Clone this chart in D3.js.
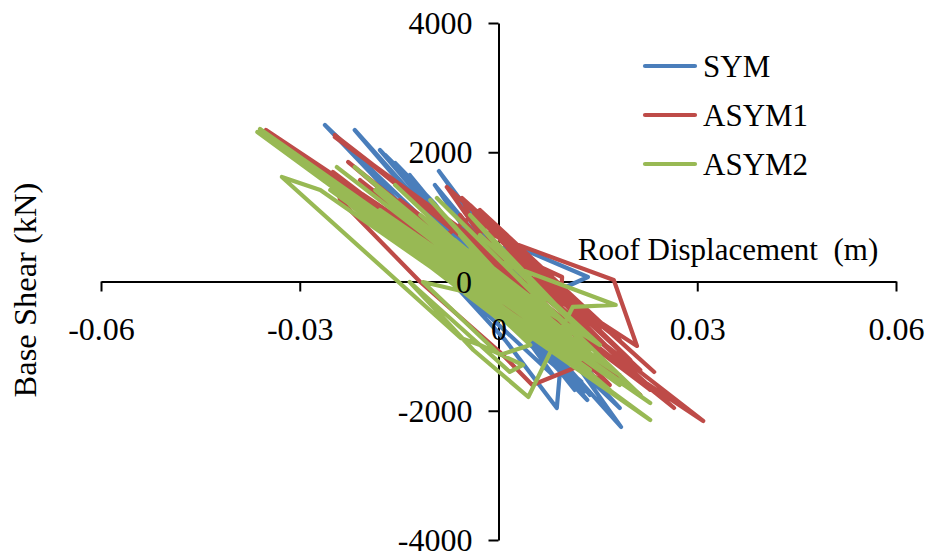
<!DOCTYPE html>
<html>
<head>
<meta charset="utf-8">
<script src="https://cdnjs.cloudflare.com/ajax/libs/d3/7.8.5/d3.min.js"></script>
<style>
  html, body { margin:0; padding:0; background:#fff; }
  text { font-family:"Liberation Serif", serif; fill:#000; }
</style>
</head>
<body>
<div id="chart"></div>
<script>
// values as [displacement m, base shear kN]
const symData = [[0.0002,20],[-0.0043,565],[0.0063,-905],[-0.0096,1493],[0.0153,-1600],[-0.0090,1709],[0.0185,-2251],[-0.0217,2344],[0.0134,-1833],[-0.0262,2421],[0.0183,-1957],[-0.0179,2034],[0.0138,-1756],[-0.0126,1493],[0.0115,-1678],[-0.0149,1725],[0.0108,-1369],[-0.0134,1648],[0.0082,-1446],[-0.0073,23],[0.0010,-905],[0.0088,-1957],[0.0093,-1369],[0.0032,-750],[-0.0043,333],[0.0022,565],[0.0135,70],[0.0085,-162],[0.0093,-364],[-0.0043,951],[0.0070,-750],[-0.0103,642],[0.0032,-441],[-0.0171,1957],[-0.0103,1261],[-0.0156,1833],[-0.0096,1200],[0.0070,-1100],[0.0110,-1500],[0.0040,-800],[0.0125,-1550],[0.0050,-1000],[0.0130,-1700],[-0.0005,23]];
const asym1Data = [[0.0002,23],[-0.0058,1029],[0.0063,-596],[-0.0078,1462],[0.0235,-1400],[-0.0055,1292],[-0.0043,998],[-0.0028,797],[0.0022,596],[0.0174,23],[0.0209,-997],[0.0032,178],[0.0265,-1957],[-0.0247,2266],[0.0309,-2158],[-0.0351,2344],[0.0214,-1756],[-0.0227,1849],[0.0153,-1446],[-0.0250,1694],[-0.0239,1261],[-0.0118,-8],[0.0002,-1091],[0.0051,-1601],[0.0118,-1323],[0.0168,-1601],[-0.0058,797],[0.0096,70],[0.0094,-286],[0.0229,-1678],[-0.0149,1261],[0.0138,-1214],[-0.0209,1570],[0.0063,-905],[-0.0088,642],[-0.0028,1106],[0.0183,-905],[-0.0013,642],[-0.0043,1183],[0.0199,-1214],[-0.0028,951],[0.0214,-1369],[0.0002,642],[0.0153,-750],[-0.0247,2235],[-0.0088,1029],[-0.0179,1725],[-0.0043,642],[0.0002,0]];
const asym2Data = [[0.0002,23],[-0.0058,719],[0.0032,-286],[-0.0103,1261],[0.0078,-750],[-0.0156,1493],[0.0108,-1060],[-0.0217,1771],[0.0153,-1369],[-0.0244,1771],[0.0183,-1601],[-0.0360,2359],[0.0229,-1879],[-0.0364,2313],[0.0229,-2142],[-0.0269,1415],[-0.0327,1617],[-0.0057,-874],[-0.0028,-982],[0.0017,-1400],[0.0037,-1292],[-0.0028,-982],[-0.0134,-8],[-0.0038,-1060],[0.0045,-1787],[0.0082,-1013],[0.0112,-394],[0.0177,-364],[0.0007,286],[0.0214,-1756],[-0.0232,1415],[0.0153,-1601],[-0.0179,1106],[0.0183,-1446],[-0.0224,1338],[0.0153,-1214],[-0.0088,487],[0.0123,-1214],[-0.0254,1415],[0.0063,-905],[-0.0118,642],[0.0138,-1060],[-0.0093,1292],[0.0093,-596],[-0.0043,487],[0.0002,-286],[-0.0114,-8],[0.0002,-1137],[0.0048,-982],[-0.0088,333],[0.0093,-750],[-0.0164,951],[0.0032,-596],[-0.0058,-131],[-0.0269,1640],[0.0138,-1369],[-0.0284,1725],[0.0123,-1292],[-0.0239,1415],[0.0168,-1678],[-0.0186,1415],[0.0093,-982],[-0.0149,1183],[0.0070,-750],[-0.0118,1029],[0.0138,-1137],[-0.0066,642],[0.0108,-828],[-0.0103,487],[0.0078,-982],[-0.0149,642],[0.0048,-905],[-0.0194,1029],[0.0002,-596],[-0.0224,1183],[-0.0028,-286],[-0.0073,100],[0.0070,-286],[-0.0043,1029],[0.0123,-750],[-0.0028,719],[0.0153,-982],[0.0002,0]];

const seriesNames = ["SYM","ASYM1","ASYM2"];
const seriesColors = ["#4a7ebb","#be4b48","#98b954"];
const xTicks = [-0.06,-0.03,0,0.03,0.06];
const yTicks = [-4000,-2000,2000,4000];

const width = 930, height = 558;
let x = d3.scaleLinear().domain([-0.06,0.06]).range([101,896]);
let y = d3.scaleLinear().domain([-4000,4000]).range([540,23]);

let svg = d3.select("#chart").append("svg").attr("width",width).attr("height",height).style("display","block");

// axis lines and tick marks go under the series
let xAxis = d3.axisBottom(x).tickValues(xTicks).tickSize(10).tickSizeOuter(0).tickFormat("");
let yAxis = d3.axisLeft(y).tickValues([-4000,-2000,0,2000,4000]).tickSize(10).tickSizeOuter(0).tickFormat("");
let xGroup = svg.append("g").attr("transform",`translate(0,${y(0)})`).call(xAxis);
let yGroup = svg.append("g").attr("transform",`translate(${x(0)},0)`).call(yAxis);
[xGroup,yGroup].forEach(g=>{
  g.selectAll(".domain").attr("stroke","#000").attr("stroke-width",2);
  g.selectAll("line").attr("stroke","#000").attr("stroke-width",2);
});

let line = d3.line().x(d=>x(d[0])).y(d=>y(d[1]));
[symData,asym1Data,asym2Data].forEach((d,i)=>{
  svg.append("path").attr("d",line(d))
    .attr("fill","none").attr("stroke",seriesColors[i])
    .attr("stroke-width",4.2).attr("stroke-linejoin","round").attr("stroke-linecap","round");
});

// tick labels sit on top of the series, second pass with no tick lines
let xLabels = svg.append("g").attr("transform",`translate(0,${y(0)})`)
  .call(d3.axisBottom(x).tickValues(xTicks).tickSize(0).tickPadding(36).tickFormat(d=>d===0?"0":d.toFixed(2)));
let yLabels = svg.append("g").attr("transform",`translate(${x(0)},0)`)
  .call(d3.axisLeft(y).tickValues(yTicks).tickSize(0).tickPadding(26).tickFormat(d=>String(d)));
[xLabels,yLabels].forEach(g=>{
  g.select(".domain").remove();
  g.selectAll("line").remove();
  g.selectAll("text").attr("font-family","Liberation Serif").attr("font-size",32).attr("fill","#000");
});

svg.append("text").attr("x",472).attr("y",y(0)+11).attr("text-anchor","end").attr("font-size",32).text("0");

svg.append("text").attr("x",728).attr("y",260).attr("text-anchor","middle").attr("font-size",31).attr("xml:space","preserve").text("Roof Displacement  (m)");
svg.append("text").attr("transform","translate(36,290) rotate(-90)").attr("text-anchor","middle").attr("font-size",32.5).text("Base Shear (kN)");

// legend
let legendY = d3.scalePoint().domain(seriesNames).range([66,164]);
seriesNames.forEach((n,i)=>{
  svg.append("line").attr("x1",645).attr("x2",695).attr("y1",legendY(n)).attr("y2",legendY(n))
    .attr("stroke",seriesColors[i]).attr("stroke-width",4.2).attr("stroke-linecap","round");
  svg.append("text").attr("x",703).attr("y",legendY(n)+11).attr("font-size",31).text(n);
});
</script>
</body>
</html>
